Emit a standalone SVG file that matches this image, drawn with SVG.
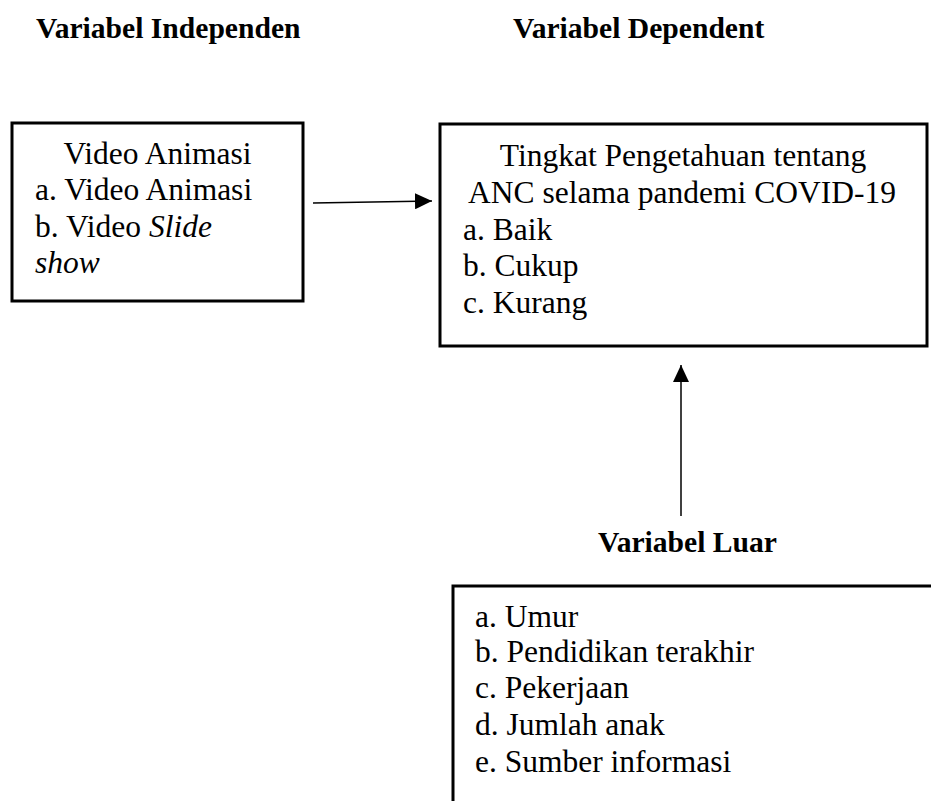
<svg xmlns="http://www.w3.org/2000/svg" width="931" height="801" viewBox="0 0 931 801">
<style>
.t{font-family:"Liberation Serif","Times New Roman",serif;font-size:31.5px;fill:#000}
.h{font-family:"Liberation Serif","Times New Roman",serif;font-size:29.6px;font-weight:bold;fill:#000}
.box{fill:none;stroke:#000;stroke-width:3}
.c{stroke:#000;stroke-width:1.5;fill:none}
</style>
<defs>
<marker id="ah" markerUnits="userSpaceOnUse" markerWidth="18" markerHeight="16" refX="17" refY="8" orient="auto">
<path d="M0,0 L17,8 L0,16 Z" fill="#000"/>
</marker>
</defs>
<g id="headers">
<text class="h" x="36" y="38">Variabel Independen</text>
<text class="h" x="513" y="38">Variabel Dependent</text>
<text class="h" x="598" y="552">Variabel Luar</text>
</g>
<g id="node-independen">
<rect class="box" x="12" y="123" width="291" height="178"/>
<text class="t" x="157.5" y="164" text-anchor="middle">Video Animasi</text>
<text class="t" x="35" y="200">a. Video Animasi</text>
<text class="t" x="35" y="237">b. Video <tspan font-style="italic">Slide</tspan></text>
<text class="t" x="35" y="273" font-style="italic">show</text>
</g>
<g id="node-dependent">
<rect class="box" x="440" y="124" width="487" height="222"/>
<text class="t" x="683" y="166" text-anchor="middle">Tingkat Pengetahuan tentang</text>
<text class="t" x="682" y="203" text-anchor="middle">ANC selama pandemi COVID-19</text>
<text class="t" x="463" y="240">a. Baik</text>
<text class="t" x="463" y="276">b. Cukup</text>
<text class="t" x="463" y="313">c. Kurang</text>
</g>
<g id="node-luar">
<path class="box" d="M453,801 L453,586 L933,586"/>
<text class="t" x="475" y="627">a. Umur</text>
<text class="t" x="475" y="662">b. Pendidikan terakhir</text>
<text class="t" x="475" y="698">c. Pekerjaan</text>
<text class="t" x="475" y="735">d. Jumlah anak</text>
<text class="t" x="475" y="772">e. Sumber informasi</text>
</g>
<g id="connectors">
<line class="c" x1="313" y1="203" x2="432" y2="201" marker-end="url(#ah)"/>
<line class="c" x1="681" y1="516" x2="681" y2="365" marker-end="url(#ah)"/>
</g>
</svg>
